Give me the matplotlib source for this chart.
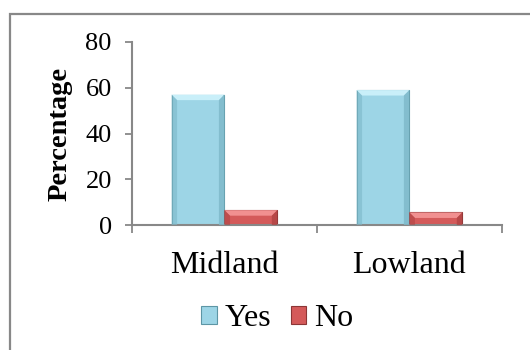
import matplotlib
matplotlib.use("Agg")
import matplotlib.pyplot as plt
from matplotlib.patches import Polygon, Rectangle
import numpy as np

regions = ["Midland", "Lowland"]
yes_pct = [57, 59]
no_pct = [6.5, 5.5]
series = ["Yes", "No"]

plt.rcParams['font.family'] = ['Liberation Serif', 'DejaVu Serif']

fig = plt.figure(figsize=(5.3, 3.5), dpi=100)
ax = fig.add_axes([0.249, 0.357, 0.698, 0.523])

x = np.arange(len(regions))
w = 0.286
styles = {
    "Yes": dict(face="#9dd5e6", light="#c9eff9", dark="#7db8c8", edge="#5d96a5"),
    "No": dict(face="#d45a5a", light="#f19090", dark="#b04444", edge="#8c3636"),
}

bars_yes = ax.bar(x - w / 2, yes_pct, w, color=styles["Yes"]["face"],
                  edgecolor=styles["Yes"]["edge"], linewidth=0.8, label="Yes", zorder=2)
bars_no = ax.bar(x + w / 2, no_pct, w, color=styles["No"]["face"],
                 edgecolor=styles["No"]["edge"], linewidth=0.8, label="No", zorder=2)

# bevelled look: light top, darker sides
bx = 0.03
by = 2.4
for bars, key in ((bars_yes, "Yes"), (bars_no, "No")):
    st = styles[key]
    for b in bars:
        x0, x1 = b.get_x(), b.get_x() + b.get_width()
        h = b.get_height()
        top = Polygon([(x0, h), (x1, h), (x1 - bx, h - by), (x0 + bx, h - by)],
                      closed=True, facecolor=st["light"], edgecolor="none", zorder=3)
        left = Polygon([(x0, 0), (x0, h), (x0 + bx, h - by), (x0 + bx, 0)],
                       closed=True, facecolor=st["dark"], edgecolor="none", alpha=0.6, zorder=3)
        right = Polygon([(x1, 0), (x1, h), (x1 - bx, h - by), (x1 - bx, 0)],
                        closed=True, facecolor=st["dark"], edgecolor="none", alpha=0.8, zorder=3)
        for p in (top, left, right):
            ax.add_patch(p)

ax.set_xlim(-0.5, len(regions) - 0.5)
ax.set_ylim(0, 80)
ax.set_yticks([0, 20, 40, 60, 80])
ax.set_xticks(x)
ax.set_xticklabels(regions, fontsize=23)
ax.set_xticks(np.arange(-0.5, len(regions)), minor=True)
ax.tick_params(axis="x", which="major", length=0, pad=19)
ax.tick_params(axis="x", which="minor", length=6, width=1.3, color="#888888", direction="out")
ax.tick_params(axis="y", length=5, width=1.3, color="#888888", labelsize=19, pad=9.5)

for s in ("top", "right"):
    ax.spines[s].set_visible(False)
for s in ("left", "bottom"):
    ax.spines[s].set_color("#888888")
    ax.spines[s].set_linewidth(1.5)

ax.set_ylabel("Percentage", fontsize=20.5, fontweight="bold")
ax.yaxis.set_label_coords(-0.16, 0.5)

leg = fig.legend(handles=[bars_yes, bars_no], labels=series, loc="center",
                 bbox_to_anchor=(0.523, 0.09), ncol=2, frameon=False, fontsize=23,
                 handlelength=0.5, handleheight=0.5, handletextpad=0.25, columnspacing=0.6)

# outer frame of the chart area
fig.patches.append(Rectangle((10 / 530, -0.1), 1.2, 0.1 + 336 / 350, transform=fig.transFigure,
                             fill=False, edgecolor="#888888", linewidth=1.6))

fig.savefig("out.png", dpi=100)
